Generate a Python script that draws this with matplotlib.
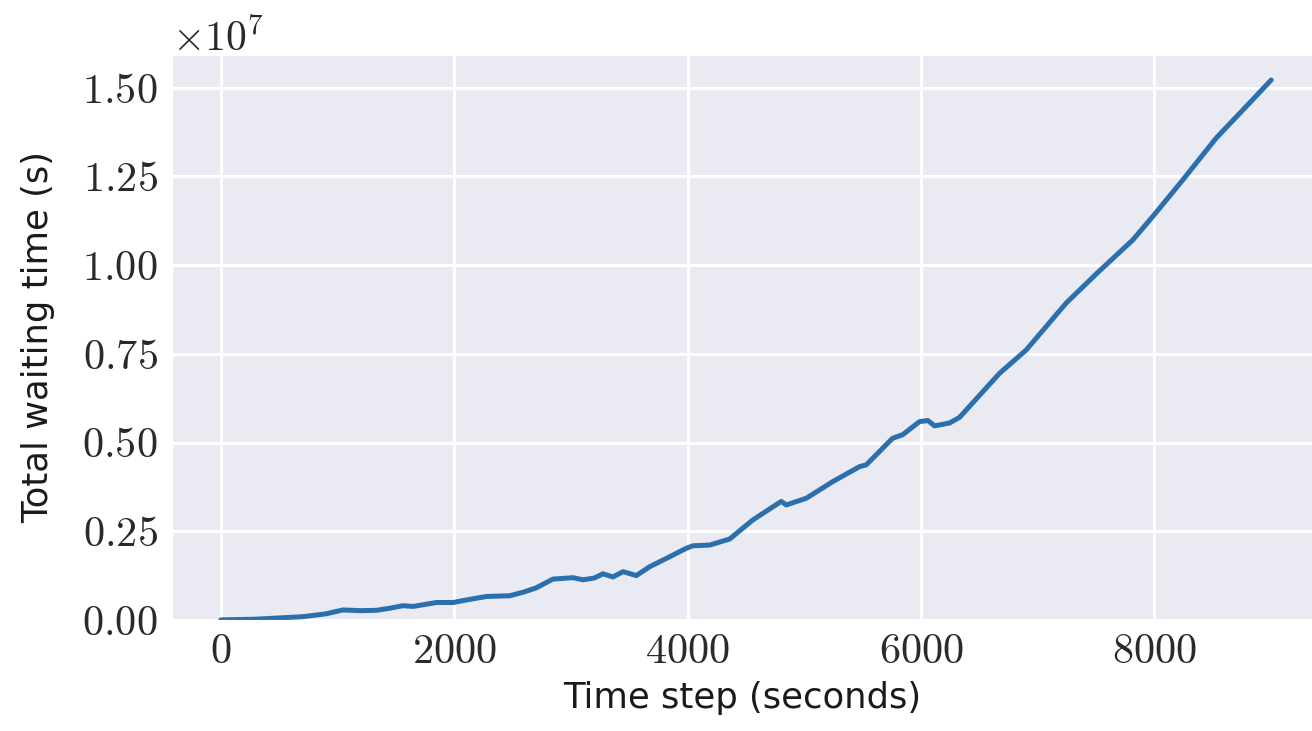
import numpy as np
import matplotlib
matplotlib.use('Agg')
import matplotlib.pyplot as plt
import seaborn as sns

# values (time step in s, total waiting time in 1e6 s)
time_step = [0, 300, 700, 900, 1045, 1200, 1333, 1450, 1560, 1650, 1847, 1990,
             2100, 2277, 2475, 2590, 2700, 2845, 3017, 3103, 3200, 3274, 3360,
             3446, 3560, 3675, 3846, 3989, 4046, 4189, 4360, 4559, 4802, 4845,
             5017, 5244, 5473, 5530, 5756, 5842, 5987, 6058, 6116, 6244, 6330,
             6672, 6901, 7243, 7500, 7814, 7985, 8242, 8528, 8814, 9000]
waiting_e6 = [0.0, 0.02, 0.09, 0.17, 0.28, 0.26, 0.27, 0.33, 0.40, 0.38, 0.49, 0.49,
              0.56, 0.66, 0.68, 0.78, 0.90, 1.15, 1.19, 1.13, 1.18, 1.30, 1.21,
              1.36, 1.25, 1.50, 1.78, 2.02, 2.09, 2.11, 2.28, 2.82, 3.34, 3.24,
              3.43, 3.90, 4.32, 4.37, 5.12, 5.22, 5.59, 5.62, 5.47, 5.55, 5.71,
              6.95, 7.61, 8.93, 9.75, 10.71, 11.37, 12.40, 13.58, 14.57, 15.22]

waiting = np.array(waiting_e6) * 1e6

sns.set_style('darkgrid')
plt.rcParams['font.family'] = 'serif'
plt.rcParams['font.serif'] = ['cmr10']
plt.rcParams['mathtext.fontset'] = 'cm'
plt.rcParams['axes.formatter.use_mathtext'] = True
plt.rcParams['font.size'] = 32

fig = plt.figure(figsize=(13.12, 7.31), dpi=100)
ax = fig.add_axes([0.131, 0.152, 0.869, 0.773])
ax.plot(time_step, waiting, color='#2b6fad', lw=3.6, solid_capstyle='round')

ax.set_xlim(-420, 9350)
ax.set_ylim(0, 1.593e7)
ax.set_xticks([0, 2000, 4000, 6000, 8000])
ax.set_yticks([0, 0.25e7, 0.5e7, 0.75e7, 1.0e7, 1.25e7, 1.5e7])
ax.ticklabel_format(axis='y', style='sci', scilimits=(0, 0))
ax.grid(color='white', lw=2.2)
ax.tick_params(axis='both', length=0, pad=10, labelsize=30.5, labelcolor='#2a2a2a')
ax.yaxis.get_offset_text().set_fontsize(30)
ax.yaxis.get_offset_text().set_color('#2a2a2a')

ax.set_xlabel('Time step (seconds)', family='DejaVu Sans', fontsize=25.5,
              labelpad=7, color='#1a1a1a')
ax.set_ylabel('Total waiting time (s)', family='DejaVu Sans', fontsize=25.5,
              labelpad=20, color='#1a1a1a')

fig.savefig('out.png', dpi=100)
